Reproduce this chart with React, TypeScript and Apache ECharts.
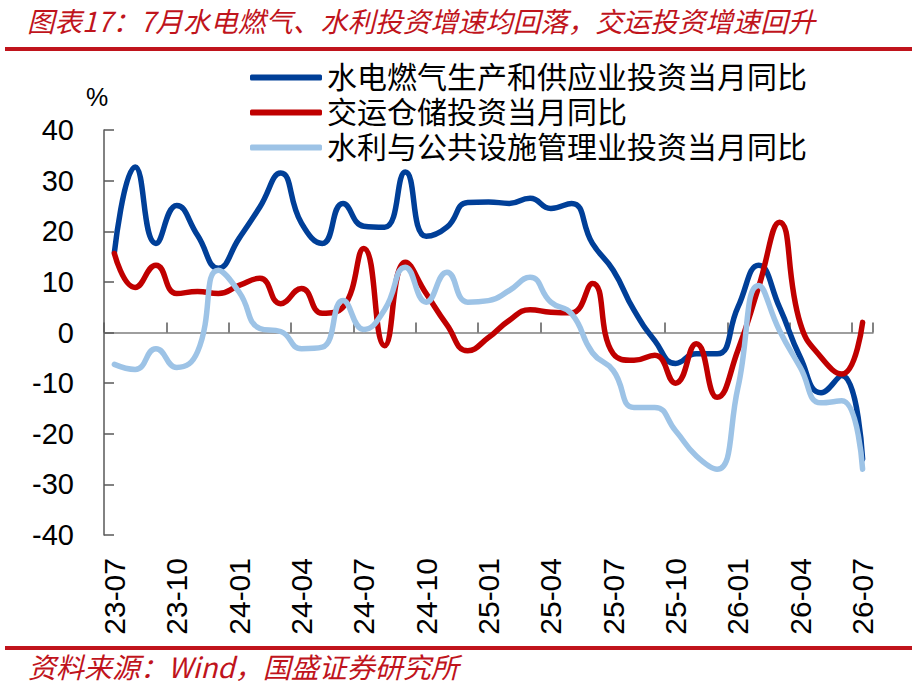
import React, { useEffect, useRef } from "react";
import * as echarts from "echarts";

const categories = [
  "23-07", "23-08", "23-09", "23-10", "23-11", "23-12",
  "24-01", "24-02", "24-03", "24-04", "24-05", "24-06",
  "24-07", "24-08", "24-09", "24-10", "24-11", "24-12",
  "25-01", "25-02", "25-03", "25-04", "25-05", "25-06",
  "25-07", "25-08", "25-09", "25-10", "25-11", "25-12",
  "26-01", "26-02", "26-03", "26-04", "26-05", "26-06",
  "26-07",
];

const utilityInvest = [
  15.8, 32.7, 17.6, 25.1, 19.2, 12.7,
  18.6, 24.8, 31.5, 21.6, 17.6, 25.5,
  21.0, 20.8, 31.7, 19.0, 20.8, 25.7,
  25.8, 25.5, 26.5, 24.5, 25.5, 17.6,
  12.3, 4.4, -1.6, -6.1, -4.2, -4.2,
  5.0, 13.3, 5.0, -4.9, -11.9, -8.5,
  -25.0,
];

const transportInvest = [
  15.6, 8.9, 13.3, 7.7, 8.1, 7.7,
  9.3, 10.7, 5.7, 8.7, 3.8, 5.0,
  16.6, -2.6, 13.9, 7.7, 1.5, -3.6,
  -1.0, 2.4, 4.5, 4.0, 3.9, 9.7,
  -4.2, -5.5, -4.5, -10.0, -2.2, -12.8,
  -3.5, 9.0, 21.8, 1.8, -4.9, -8.2,
  2.0,
];

const waterPublicInvest = [
  -6.3, -7.3, -3.2, -6.9, -3.8, 12.3,
  8.0, 0.8, 0.2, -3.2, -2.9, 6.3,
  0.6, 4.5, 12.9, 6.0, 11.9, 6.0,
  6.3, 8.3, 10.9, 6.0, 3.7, -4.0,
  -7.5, -14.8, -14.8, -19.4, -24.4, -27.0,
  -10.9, 9.3, 0.4, -6.9, -13.9, -13.5,
  -27.0,
];

const seriesNames = [
  "水电燃气生产和供应业投资当月同比",
  "交运仓储投资当月同比",
  "水利与公共设施管理业投资当月同比",
];
const seriesColors = ["#003F98", "#C00000", "#9DC3E6"];

const titleText = "图表17：7月水电燃气、水利投资增速均回落，交运投资增速回升";
const sourceText = "资料来源：Wind，国盛证券研究所";
const unitText = "%";

const RED = "#C0141C";
const CJK = "Noto Sans CJK SC";
const LATIN = "Liberation Sans";
const LEGEND_FONT = "'Liberation Sans', 'Noto Sans CJK SC'";

export default function App() {
  const ref = useRef<HTMLDivElement>(null);

  useEffect(() => {
    if (!ref.current) return;
    const chart = echarts.init(ref.current, null, { renderer: "svg" });
    const dataSets = [utilityInvest, transportInvest, waterPublicInvest];
    chart.setOption({
      animation: false,
      backgroundColor: "#ffffff",
      grid: { left: 104, right: 39, top: 130, bottom: 158, containLabel: false },
      legend: {
        orient: "vertical",
        left: 245,
        top: 55,
        itemWidth: 72,
        itemHeight: 6,
        itemGap: 0,
        icon: "roundRect",
        data: seriesNames,
        textStyle: { fontSize: 30, lineHeight: 35, fontFamily: LEGEND_FONT, color: "#000" },
      },
      xAxis: [
        {
          type: "category",
          data: categories,
          position: "top",
          boundaryGap: true,
          axisLine: { show: true, onZero: true, lineStyle: { color: "#7f7f7f", width: 1.5 } },
          axisTick: { show: true, inside: false, interval: 2, length: 10, lineStyle: { color: "#595959", width: 1.5 } },
          axisLabel: { show: false },
          splitLine: { show: false },
        },
        {
          type: "category",
          data: categories,
          position: "bottom",
          boundaryGap: true,
          axisLine: { show: false, onZero: false },
          axisTick: { show: false },
          axisLabel: {
            interval: 2,
            rotate: 90,
            margin: 23,
            fontSize: 30,
            fontFamily: LATIN,
            color: "#000",
          },
          splitLine: { show: false },
        },
      ],
      yAxis: {
        type: "value",
        min: -40,
        max: 40,
        interval: 10,
        axisLine: { show: true, lineStyle: { color: "#595959", width: 1.5 } },
        axisTick: { show: true, inside: true, length: 10, lineStyle: { color: "#595959", width: 1.5 } },
        axisLabel: { margin: 30, fontSize: 29, fontFamily: LATIN, color: "#000" },
        splitLine: { show: false },
      },
      series: seriesNames.map((name, i) => ({
        name,
        type: "line",
        xAxisIndex: 0,
        data: dataSets[i],
        smooth: 0.5,
        showSymbol: false,
        symbol: "none",
        itemStyle: { color: seriesColors[i] },
        lineStyle: { color: seriesColors[i], width: 5.5, cap: "round", join: "round" },
      })),
      graphic: [
        {
          type: "text",
          left: 27,
          top: 6,
          style: { text: titleText, fontSize: 27.5, fontStyle: "italic", fontFamily: CJK, fill: RED },
        },
        { type: "rect", shape: { x: 5, y: 47, width: 907, height: 4 }, style: { fill: RED } },
        { type: "rect", shape: { x: 5, y: 646, width: 907, height: 4 }, style: { fill: RED } },
        {
          type: "text",
          left: 28,
          top: 652,
          style: { text: sourceText, fontSize: 28, fontStyle: "italic", fontFamily: CJK, fill: RED },
        },
        {
          type: "text",
          x: 97,
          y: 97,
          style: { text: unitText, fontSize: 25, fontFamily: LATIN, fill: "#000", align: "center", verticalAlign: "middle" },
        },
      ],
    });
    return () => chart.dispose();
  }, []);

  return (
    <div
      ref={ref}
      style={{ position: "absolute", left: 0, top: 0, width: 912, height: 693 }}
    />
  );
}
